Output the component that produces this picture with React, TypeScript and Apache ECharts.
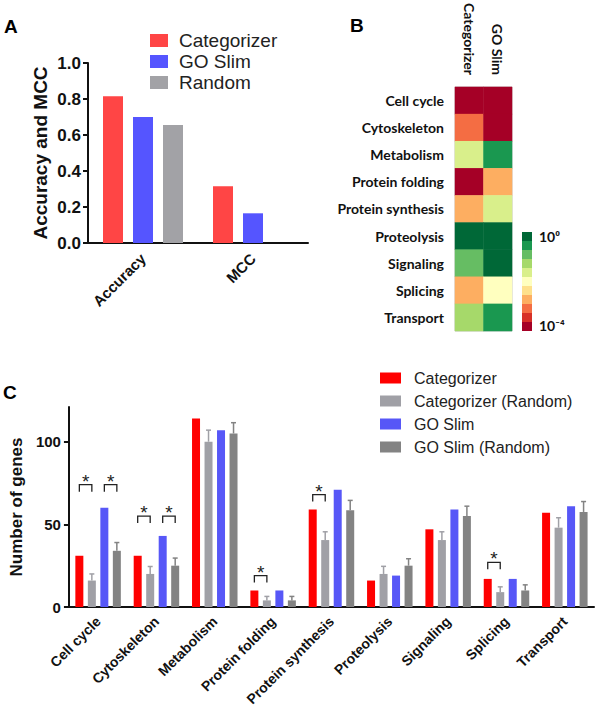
import React, { useEffect, useRef } from 'react';
import * as echarts from 'echarts';

// ---------- Panel A data ----------
const metricCategories = ['Accuracy', 'MCC'];
const metricCategorizer = [0.815, 0.315];
const metricGoSlim = [0.7, 0.165];
const metricRandom = [0.655, 0];

// ---------- Panel B data (log10 p-values) ----------
const heatColumns = ['Categorizer', 'GO Slim'];
const heatRows = ['Cell cycle', 'Cytoskeleton', 'Metabolism', 'Protein folding', 'Protein synthesis', 'Proteolysis', 'Signaling', 'Splicing', 'Transport'];
const heatCategorizerLog10P = [-3.8, -3.1, -1.6, -3.8, -2.7, -0.1, -0.9, -2.7, -1.3];
const heatGoSlimLog10P = [-3.8, -3.8, -0.5, -2.7, -1.6, -0.1, -0.1, -2.0, -0.5];
const colorbarLabels = ['10\u2070', '10\u207B\u2074'];
const colorbarColors = ['#a50026', '#d73027', '#f46d43', '#fdae61', '#fee08b', '#ffffbf', '#d9ef8b', '#a6d96a', '#66bd63', '#1a9850', '#006837'];

// ---------- Panel C data ----------
const geneCategories = ['Cell cycle', 'Cytoskeleton', 'Metabolism', 'Protein folding', 'Protein synthesis', 'Proteolysis', 'Signaling', 'Splicing', 'Transport'];
const genesCategorizer = [31, 31, 114, 10, 59, 16, 47, 17, 57];
const genesCategorizerRandom = [16, 20, 100, 4, 40.5, 20, 40.5, 9, 48];
const genesCategorizerRandomErr = [4, 4.5, 7, 2.4, 5, 4.6, 5, 3.2, 6];
const genesGoSlim = [60, 43, 107, 10, 71, 19, 59, 17, 61];
const genesGoSlimRandom = [34, 25, 105, 4, 58.5, 25, 55, 10, 57.5];
const genesGoSlimRandomErr = [5, 4.6, 6.5, 2.4, 6, 4.2, 6, 3.4, 6.3];
const geneTicks = [0, 50, 100];

// significance brackets: category index, pair (0 = Categorizer, 1 = GO Slim), bracket level
const sigCategoryIndex = [0, 0, 1, 1, 3, 4, 7];
const sigPair = [0, 1, 0, 1, 0, 0, 0];
const sigLevel = [74, 74, 55, 55, 19, 68, 27];

const FONT = "'Liberation Sans', Arial, Helvetica, sans-serif";
const NARROW = "'Liberation Sans Narrow', 'Arial Narrow', Lato, sans-serif";
const BAR_W = 8;
const BAR_GAP = 4.5;
const BAR_STEP = BAR_W + BAR_GAP;

const C_RED = '#ff0000';
const C_LGRAY = '#a0a0a6';
const C_BLUE = '#5757f7';
const C_DGRAY = '#838383';

export default function App() {
  const ref = useRef<HTMLDivElement>(null);

  useEffect(() => {
    if (!ref.current) return;
    const chart = echarts.init(ref.current, undefined, { renderer: 'svg' });

    const step = 4 / colorbarColors.length;
    const pieces = colorbarColors.map((c, k) => ({ min: -4 + k * step, max: -4 + (k + 1) * step, color: c }));

    const heatData: any[] = [];
    heatRows.forEach((_, r) => {
      heatData.push([0, r, heatCategorizerLog10P[r]]);
      heatData.push([1, r, heatGoSlimLog10P[r]]);
    });

    const errorRender = (slot: number, color: string) => (params: any, api: any) => {
      const x = api.value(0);
      const v = api.value(1);
      const e = api.value(2);
      const base = api.coord([x, v]);
      const top = api.coord([x, v + e]);
      const cx = base[0] + (slot - 1.5) * BAR_STEP;
      return {
        type: 'group',
        children: [
          { type: 'line', shape: { x1: cx, y1: base[1], x2: cx, y2: top[1] }, style: { stroke: color, lineWidth: 1.5 } },
          { type: 'line', shape: { x1: cx - 2.5, y1: top[1], x2: cx + 2.5, y2: top[1] }, style: { stroke: color, lineWidth: 1.5 } },
        ],
      };
    };

    const bracketRender = (params: any, api: any) => {
      const ci = api.value(0);
      const pair = api.value(1);
      const level = api.value(2);
      const p = api.coord([ci, level]);
      const x1 = p[0] + (pair * 2 - 1.5) * BAR_STEP;
      const x2 = x1 + BAR_STEP;
      const y = p[1];
      return {
        type: 'group',
        children: [
          { type: 'polyline', shape: { points: [[x1, y + 7], [x1, y], [x2, y], [x2, y + 7]] }, style: { stroke: '#222', fill: 'none', lineWidth: 1.3 } },
          {
            type: 'text',
            style: {
              text: '*', x: (x1 + x2) / 2, y: y + 6,
              align: 'center', textAlign: 'center', verticalAlign: 'bottom', textVerticalAlign: 'bottom',
              font: `19px ${FONT}`, fill: '#222',
            },
          },
        ],
      };
    };

    const axisLineStyle = { lineStyle: { color: '#111', width: 2 } };
    const barGapPct = `${(BAR_GAP / BAR_W) * 100}%`;

    const option: any = {
      animation: false,
      graphic: [
        { type: 'text', left: 4, top: 17, style: { text: 'A', font: `bold 19px ${FONT}`, fill: '#000' } },
        { type: 'text', left: 350, top: 16, style: { text: 'B', font: `bold 19px ${FONT}`, fill: '#000' } },
        { type: 'text', left: 3, top: 383, style: { text: 'C', font: `bold 19px ${FONT}`, fill: '#000' } },
        { type: 'text', left: 539, top: 229, style: { text: colorbarLabels[0], font: `bold 14px ${NARROW}`, fill: '#111' } },
        { type: 'text', left: 539, top: 318, style: { text: colorbarLabels[1], font: `bold 14px ${NARROW}`, fill: '#111' } },
      ],
      legend: [
        {
          left: 150, top: 31, padding: 0, orient: 'vertical', icon: 'rect', itemWidth: 18, itemHeight: 13, itemGap: 2,
          selectedMode: false,
          textStyle: { fontFamily: FONT, fontSize: 19, color: '#222', padding: [0, 0, 0, 6] },
          data: [
            { name: 'Categorizer', itemStyle: { color: '#ff4545' } },
            { name: 'GO Slim', itemStyle: { color: '#5555ff' } },
            { name: 'Random', itemStyle: { color: '#a2a2a6' } },
          ],
        },
        {
          left: 380, top: 370, padding: 0, orient: 'vertical', icon: 'rect', itemWidth: 21, itemHeight: 11, itemGap: 7,
          selectedMode: false,
          textStyle: { fontFamily: FONT, fontSize: 16, color: '#222', padding: [0, 0, 0, 8] },
          data: [
            { name: 'Categorizer', itemStyle: { color: C_RED } },
            { name: 'Categorizer (Random)', itemStyle: { color: C_LGRAY } },
            { name: 'GO Slim', itemStyle: { color: C_BLUE } },
            { name: 'GO Slim (Random)', itemStyle: { color: C_DGRAY } },
          ],
        },
      ],
      grid: [
        { left: 88, top: 63, width: 220, height: 180 },
        { left: 455, top: 77, width: 57, height: 254, show: true, borderColor: '#c4c4c4', borderWidth: 1 },
        { left: 54, top: 407, width: 540, height: 200 },
      ],
      xAxis: [
        {
          gridIndex: 0, type: 'category', data: metricCategories,
          axisLine: axisLineStyle,
          axisTick: { alignWithLabel: true, length: 6, lineStyle: { color: '#111', width: 2 } },
          axisLabel: { rotate: 45, interval: 0, margin: 13, fontFamily: FONT, fontWeight: 'bold', fontSize: 15, color: '#111' },
        },
        {
          gridIndex: 1, type: 'category', data: heatColumns, position: 'top',
          axisLine: { show: false }, axisTick: { show: false }, splitArea: { show: false },
          axisLabel: { rotate: 90, interval: 0, margin: 12, fontFamily: NARROW, fontWeight: 'bold', fontSize: 14, color: '#111' },
        },
        {
          gridIndex: 2, type: 'category', data: geneCategories,
          axisLine: axisLineStyle,
          axisTick: { alignWithLabel: true, length: 6, lineStyle: { color: '#111', width: 2 } },
          axisLabel: { rotate: 45, interval: 0, margin: 12, fontFamily: FONT, fontWeight: 'bold', fontSize: 14, color: '#111' },
        },
      ],
      yAxis: [
        {
          gridIndex: 0, type: 'value', min: 0, max: 1, interval: 0.2,
          name: 'Accuracy and MCC', nameLocation: 'middle', nameGap: 38,
          nameTextStyle: { fontFamily: FONT, fontWeight: 'bold', fontSize: 19, color: '#111' },
          axisLine: { show: true, ...axisLineStyle },
          axisTick: { show: true, length: 5, lineStyle: { color: '#111', width: 2 } },
          splitLine: { show: false },
          axisLabel: { margin: 7, fontFamily: FONT, fontWeight: 'bold', fontSize: 17, color: '#111', formatter: (v: number) => v.toFixed(1) },
        },
        {
          gridIndex: 1, type: 'category', data: heatRows, inverse: true,
          axisLine: { show: false }, axisTick: { show: false }, splitArea: { show: false },
          axisLabel: { interval: 0, margin: 11, fontFamily: NARROW, fontWeight: 'bold', fontSize: 14, color: '#111' },
        },
        {
          gridIndex: 2, type: 'value', min: 0, max: 121,
          name: 'Number of genes', nameLocation: 'middle', nameGap: 28,
          nameTextStyle: { fontFamily: FONT, fontWeight: 'bold', fontSize: 17, color: '#111' },
          axisLine: { show: true, ...axisLineStyle },
          axisTick: { show: true, length: 5, customValues: geneTicks, lineStyle: { color: '#111', width: 2 } },
          splitLine: { show: false },
          axisLabel: { margin: 8, customValues: geneTicks, fontFamily: FONT, fontWeight: 'bold', fontSize: 15, color: '#111' },
        },
      ],
      visualMap: {
        type: 'piecewise', seriesIndex: 3, pieces, orient: 'vertical', align: 'left',
        left: 522, top: 232, itemWidth: 10, itemHeight: 9, itemGap: 0, itemSymbol: 'rect',
        selectedMode: false, showLabel: false, padding: 0,
      },
      series: [
        { name: 'Categorizer', type: 'bar', xAxisIndex: 0, yAxisIndex: 0, data: metricCategorizer, barWidth: 20, barGap: '50%', itemStyle: { color: '#ff4545' } },
        { name: 'GO Slim', type: 'bar', xAxisIndex: 0, yAxisIndex: 0, data: metricGoSlim, barWidth: 20, barGap: '50%', itemStyle: { color: '#5555ff' } },
        { name: 'Random', type: 'bar', xAxisIndex: 0, yAxisIndex: 0, data: metricRandom, barWidth: 20, barGap: '50%', itemStyle: { color: '#a2a2a6' } },
        { name: 'p-value', type: 'heatmap', xAxisIndex: 1, yAxisIndex: 1, data: heatData, emphasis: { disabled: true } },
        { name: 'Categorizer', type: 'bar', xAxisIndex: 2, yAxisIndex: 2, data: genesCategorizer, barWidth: BAR_W, barGap: barGapPct, itemStyle: { color: C_RED } },
        { name: 'Categorizer (Random)', type: 'bar', xAxisIndex: 2, yAxisIndex: 2, data: genesCategorizerRandom, barWidth: BAR_W, barGap: barGapPct, itemStyle: { color: C_LGRAY } },
        { name: 'GO Slim', type: 'bar', xAxisIndex: 2, yAxisIndex: 2, data: genesGoSlim, barWidth: BAR_W, barGap: barGapPct, itemStyle: { color: C_BLUE } },
        { name: 'GO Slim (Random)', type: 'bar', xAxisIndex: 2, yAxisIndex: 2, data: genesGoSlimRandom, barWidth: BAR_W, barGap: barGapPct, itemStyle: { color: C_DGRAY } },
        {
          name: 'err1', type: 'custom', xAxisIndex: 2, yAxisIndex: 2, renderItem: errorRender(1, C_LGRAY),
          encode: { x: 0, y: 1 }, data: genesCategorizerRandom.map((v, i) => [i, v, genesCategorizerRandomErr[i]]), z: 3,
        },
        {
          name: 'err3', type: 'custom', xAxisIndex: 2, yAxisIndex: 2, renderItem: errorRender(3, C_DGRAY),
          encode: { x: 0, y: 1 }, data: genesGoSlimRandom.map((v, i) => [i, v, genesGoSlimRandomErr[i]]), z: 3,
        },
        {
          name: 'sig', type: 'custom', xAxisIndex: 2, yAxisIndex: 2, renderItem: bracketRender,
          encode: { x: 0, y: 2 }, data: sigCategoryIndex.map((c, i) => [c, sigPair[i], sigLevel[i]]), z: 4,
        },
      ],
    };

    chart.setOption(option);
    return () => chart.dispose();
  }, []);

  return <div ref={ref} style={{ position: 'absolute', left: 0, top: 0, width: 600, height: 719, background: '#fff' }} />;
}
